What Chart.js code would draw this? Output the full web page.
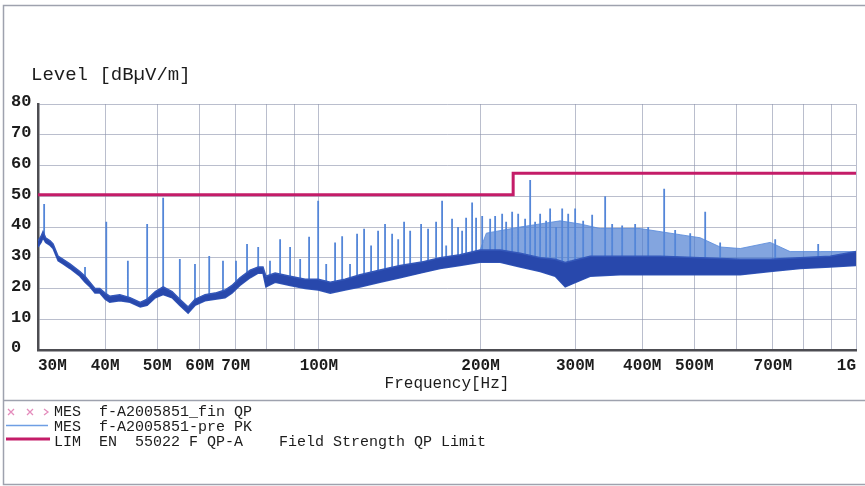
<!DOCTYPE html>
<html>
<head>
<meta charset="utf-8">
<title>Radiated emission scan</title>
<script src="https://cdn.jsdelivr.net/npm/chart.js@4.4.1/dist/chart.umd.min.js"></script>
<style>
  html, body { margin: 0; padding: 0; background: #fff; }
  canvas { display: block; }
</style>
</head>
<body>
<canvas id="scan" width="865" height="486"></canvas>
<script>
// frequency axis (MHz): grid lines and the labelled subset
const gridFreqs = [30, 40, 50, 60, 70, 80, 90, 100, 200, 300, 400, 500, 600, 700, 800, 900, 1000];
const tickFreqs = [30, 40, 50, 60, 70, 100, 200, 300, 400, 500, 700, 1000];
const tickLabels = ['30M', '40M', '50M', '60M', '70M', '100M', '200M', '300M', '400M', '500M', '700M', '1G'];

// EN 55022 class A QP limit, dBuV/m
const limitFreq = [30, 230, 230, 1000];
const limitLevel = [50.5, 50.5, 57.5, 57.5];

// pre-scan peak trace: lower and upper edge of the noise band
const floorFreq = [30, 30.4, 30.65, 31.0, 31.6, 32.0, 32.7, 33.4, 34.4, 35.9, 36.7, 37.5, 38.3, 39.1, 40.0, 40.8,
  42.6, 44.5, 46.5, 47.9, 49.6, 51.3, 53.3, 55.1, 57.1, 58.8, 61.4, 64.1, 66.9, 68.9, 71.3, 74.5, 77.1, 78.7,
  79.7, 82.9, 88.4, 94.3, 99.7, 105, 111.9, 119.3, 130, 141.7, 154.4, 168.2, 183.2, 199.6, 217.5, 237, 258.2,
  275.4, 287.5, 296.2, 319.9, 363.9, 432, 512.8, 608.8, 692.4, 787.3, 895.6, 1000];
const floorLow = [33.5, 35, 36.5, 35, 34, 33, 29, 28, 26.5, 24, 22, 20.5, 18.5, 18.5, 16.5, 15.5,
  16, 15.5, 14, 14.5, 17, 18, 17, 14.5, 12, 14.5, 16, 16.5, 17, 18.5, 21, 23.5, 25, 25,
  20.5, 22, 21, 20, 19.5, 18.5, 19.5, 20.5, 22, 23.5, 25, 26.5, 27.5, 28.5, 28.5, 27, 25.5,
  24, 20.5, 21.5, 24, 24.5, 24.5, 24.5, 24.5, 25.5, 26.5, 27, 27.5];
const floorHigh = [35.5, 37, 38.5, 36.5, 35.5, 34.5, 30.5, 29.5, 28, 25.5, 24, 22, 20, 20, 18.5, 17.5,
  18, 17, 15.5, 16.5, 19, 20.5, 19, 16.5, 14, 16.5, 18, 18.5, 19.5, 21, 23.5, 26, 27, 27,
  24, 25, 24, 23, 23, 22, 23, 24.5, 26, 27.5, 28.5, 30, 31, 32.5, 32.5, 31.5, 30,
  29.5, 28.5, 29, 30.5, 30.5, 30.5, 30, 29.5, 29.5, 30, 30.5, 32];

// top of the dense clock-harmonic region above 200 MHz
const denseFreq = [199.6, 205, 237, 258.2, 281.3, 306.5, 333.9, 396.4, 470.6, 512.8, 558.6, 608.8, 692.4, 754, 857.8, 1000];
const denseTop = [32.5, 38, 40, 41, 42, 41, 39.5, 39.5, 37.5, 36.5, 33.5, 33, 35, 32, 32, 32];

// discrete emission spikes: frequency, peak and foot level
const spikeFreq = [30.8, 36.7, 40.2, 44.1, 47.9, 51.3, 55.1, 58.8, 62.5, 66.3, 70.1, 73.5, 77.1, 81.1, 84.7,
  88.4, 92.3, 95.9, 99.7, 103.2, 107.2, 110.5, 114.3, 117.8, 121.4, 125.1, 128.9, 132.8, 136.9, 140.5, 144.1,
  147.9, 155, 159.7, 165.3, 169.6, 172.6, 177, 181.6, 184.8, 188, 192.9, 196.2, 201.4, 208.4, 212.9, 219.4,
  223.2, 229, 235, 242.1, 247.4, 252.7, 258.2, 264.9, 269.5, 276.5, 283.8, 291.2, 300, 310.5, 322.7, 341.2,
  351.6, 367, 388, 410.3, 439.4, 460.6, 491.3, 523.9, 558.6, 707.3, 850.4];
const spikePeak = [47.5, 27, 41.7, 29, 41, 49.5, 29.6, 28, 30.6, 29, 29, 34.5, 33.5, 29, 36,
  33.5, 29.6, 36.8, 48.5, 28, 35, 37, 28, 37.8, 39.4, 34, 38.8, 41, 37.8, 36, 41.7,
  38.8, 41, 39.4, 41.7, 48.5, 34, 42.7, 40, 38.8, 43, 48, 43, 43.6, 42.7, 43.6, 44.3,
  41.7, 45, 44.3, 42.7, 55.3, 41.7, 44.3, 42, 46, 40, 46, 44.3, 46, 42, 44, 50,
  41, 40.5, 41, 40, 52.4, 39, 38, 45, 35, 36, 34.5];
const spikeBase = [36, 23, 17, 16, 15, 19, 15.5, 15, 17, 18, 20, 24, 26, 23, 23,
  22, 22, 21, 21, 20, 20, 21, 21, 22, 22, 23, 23, 24, 24, 25, 25,
  26, 26, 27, 28, 28, 28, 29, 29, 29, 30, 30, 30, 30, 30, 30, 30,
  30, 30, 29, 29, 28, 28, 27, 27, 27, 26, 25, 25, 26, 27, 27, 27,
  27, 27, 27, 27, 27, 27, 27, 27, 27, 27, 29];

const MONO = '"Liberation Mono", "DejaVu Sans Mono", monospace';
const INK = '#1c1c1c';
const LIMIT_RED = 'rgb(196,28,104)';
const PK_BLUE = 'rgb(84,134,216)';

const toPts = (xs, ys) => xs.map((x, i) => ({ x: x, y: ys[i] }));

const spikePts = [];
spikeFreq.forEach((f, i) => {
  spikePts.push({ x: f, y: spikeBase[i] }, { x: f, y: spikePeak[i] }, { x: f, y: null });
});

// frame, header, x labels and legend block
const decor = {
  id: 'decor',
  afterDraw(chart) {
    const ctx = chart.ctx;
    const xs = chart.scales.x;
    ctx.save();

    ctx.strokeStyle = '#9ea2ae';
    ctx.lineWidth = 1.5;
    ctx.strokeRect(3.5, 5.5, 875, 479);
    ctx.beginPath();
    ctx.moveTo(3.5, 400.5);
    ctx.lineTo(865, 400.5);
    ctx.stroke();

    ctx.fillStyle = INK;
    ctx.textBaseline = 'middle';
    ctx.textAlign = 'left';
    ctx.font = '19px ' + MONO;
    ctx.fillText('Level [dBµV/m]', 31, 75);

    ctx.font = 'bold 16px ' + MONO;
    tickFreqs.forEach((f, i) => {
      const px = xs.getPixelForValue(f);
      ctx.textAlign = i === 0 ? 'left' : (i === tickFreqs.length - 1 ? 'right' : 'center');
      ctx.fillText(tickLabels[i], px, 366);
    });

    // legend rows
    ctx.textAlign = 'left';
    ctx.font = '15px ' + MONO;
    ctx.fillText('MES  f-A2005851_fin QP', 54, 412);
    ctx.fillText('MES  f-A2005851-pre PK', 54, 427);
    ctx.fillText('LIM  EN  55022 F QP-A    Field Strength QP Limit', 54, 442);

    ctx.strokeStyle = 'rgb(228,140,188)';
    ctx.lineWidth = 1.3;
    [11, 30].forEach(cx => {
      ctx.beginPath();
      ctx.moveTo(cx - 3, 409); ctx.lineTo(cx + 3, 415);
      ctx.moveTo(cx + 3, 409); ctx.lineTo(cx - 3, 415);
      ctx.stroke();
    });
    ctx.beginPath();
    ctx.moveTo(44, 409); ctx.lineTo(48, 412); ctx.lineTo(44, 415);
    ctx.stroke();

    ctx.strokeStyle = 'rgb(110,158,228)';
    ctx.lineWidth = 1.5;
    ctx.beginPath();
    ctx.moveTo(6, 425.5); ctx.lineTo(48, 425.5);
    ctx.stroke();

    ctx.strokeStyle = LIMIT_RED;
    ctx.lineWidth = 3;
    ctx.beginPath();
    ctx.moveTo(6, 439); ctx.lineTo(50, 439);
    ctx.stroke();

    ctx.restore();
  }
};

new Chart(document.getElementById('scan'), {
  type: 'line',
  data: {
    datasets: [
      {
        label: 'LIM EN 55022 F QP-A',
        data: toPts(limitFreq, limitLevel),
        borderColor: LIMIT_RED,
        borderWidth: 3,
        order: 0
      },
      {
        label: 'PK band top',
        data: toPts(floorFreq, floorHigh),
        borderColor: 'rgb(52,88,186)',
        borderWidth: 1.5,
        backgroundColor: 'rgb(40,72,172)',
        fill: 2,
        order: 1
      },
      {
        label: 'PK band bottom',
        data: toPts(floorFreq, floorLow),
        borderColor: 'rgb(52,88,186)',
        borderWidth: 1.5,
        order: 2
      },
      {
        label: 'PK spikes',
        data: spikePts,
        borderColor: PK_BLUE,
        borderWidth: 1.8,
        spanGaps: false,
        order: 3
      },
      {
        label: 'PK dense',
        data: toPts(denseFreq, denseTop),
        borderColor: 'rgba(90,140,220,0.85)',
        borderWidth: 1,
        backgroundColor: 'rgba(72,122,208,0.68)',
        fill: 2,
        order: 4
      }
    ]
  },
  options: {
    responsive: false,
    animation: false,
    devicePixelRatio: 1,
    layout: { padding: { left: 11, right: 9, top: 104, bottom: 86 } },
    elements: { point: { radius: 0 }, line: { tension: 0 } },
    plugins: {
      legend: { display: false },
      tooltip: { enabled: false }
    },
    scales: {
      x: {
        type: 'logarithmic',
        min: 30,
        max: 1000,
        afterBuildTicks: (s) => { s.ticks = gridFreqs.map(v => ({ value: v })); },
        afterFit: (s) => { s.height = 50; },
        ticks: { display: false },
        grid: { color: 'rgba(140,146,172,0.6)', lineWidth: 1, drawTicks: false },
        border: { color: '#4d4d52', width: 2.5 },
        title: {
          display: true,
          text: 'Frequency[Hz]',
          color: INK,
          font: { family: MONO, size: 16 },
          padding: { top: 0, bottom: 6.4 }
        }
      },
      y: {
        min: 0,
        max: 80,
        afterFit: (s) => { s.width = 27; },
        ticks: {
          stepSize: 10,
          crossAlign: 'far',
          labelOffset: -2,
          color: INK,
          font: { family: MONO, size: 17, weight: 'bold' }
        },
        grid: { color: 'rgba(140,146,172,0.6)', lineWidth: 1, drawTicks: false },
        border: { color: '#4d4d52', width: 2.5 }
      }
    }
  },
  plugins: [decor]
});
</script>
</body>
</html>
